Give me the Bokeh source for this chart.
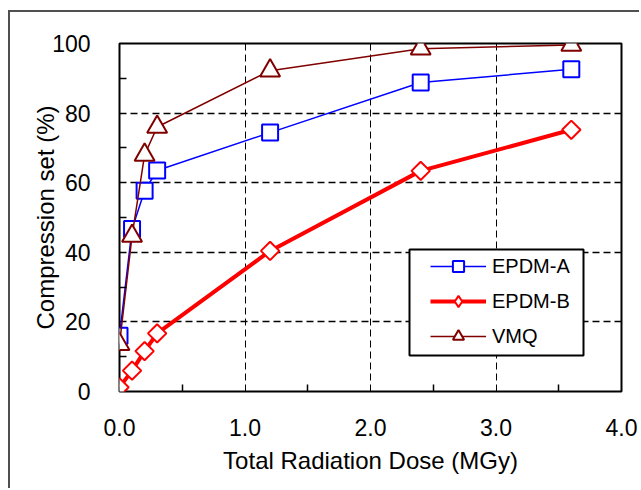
import numpy as np
from bokeh.plotting import figure
from bokeh.models import (FixedTicker, PrintfTickFormatter, Range1d, BoxAnnotation,
                          Legend, LegendItem)
from bokeh.embed import file_html
from bokeh.resources import INLINE

# ---- data ----
dose = [0.0, 0.1, 0.2, 0.3, 1.2, 2.4, 3.6]
epdm_a = [16.0, 46.7, 57.7, 63.5, 74.4, 88.8, 92.6]
epdm_b = [1.2, 6.0, 11.6, 16.7, 40.4, 63.4, 75.2]
vmq = [13.6, 44.7, 68.0, 76.0, 92.2, 98.5, 99.6]

x_ticks = [0, 1, 2, 3, 4]
x_minor = [0.5, 1.5, 2.5, 3.5]
y_ticks = [0, 20, 40, 60, 80, 100]
y_minor = [10, 30, 50, 70, 90]

FONT = "Liberation Sans"

p = figure(frame_width=502, frame_height=348,
           min_border_left=119, min_border_right=18,
           min_border_top=43, min_border_bottom=97,
           x_range=Range1d(0, 4), y_range=Range1d(0, 100),
           output_backend="svg", toolbar_location=None,
           background_fill_color="white", border_fill_alpha=0)
# thin page border along the top and left edges, as in the reference
p.styles = {
    "background": ("linear-gradient(#505050, #505050) 8px 10px / 2px 100% no-repeat, "
                   "linear-gradient(#505050, #505050) 8px 10px / 100% 2px no-repeat, "
                   "white"),
}

p.outline_line_color = "black"
p.outline_line_width = 2

for ax in (p.xaxis[0], p.yaxis[0]):
    ax.axis_line_color = None
    ax.major_tick_in = 0
    ax.major_tick_out = 0
    ax.minor_tick_in = 7
    ax.minor_tick_out = 0
    ax.minor_tick_line_color = "black"
    ax.minor_tick_line_width = 1.5
    ax.major_label_text_font = FONT
    ax.major_label_text_font_size = "23px"
    ax.major_label_text_color = "black"
    ax.axis_label_text_font = FONT
    ax.axis_label_text_font_size = "24px"
    ax.axis_label_text_font_style = "normal"
    ax.axis_label_text_color = "black"

p.xaxis.ticker = FixedTicker(ticks=x_ticks, minor_ticks=x_minor)
p.yaxis.ticker = FixedTicker(ticks=y_ticks, minor_ticks=y_minor)
p.xaxis.formatter = PrintfTickFormatter(format="%.1f")
p.xaxis.axis_label = "Total Radiation Dose (MGy)"
p.yaxis.axis_label = "Compression set (%)"
p.xaxis.major_label_standoff = 27
p.yaxis.major_label_standoff = 29
p.xaxis.axis_label_standoff = 8
p.yaxis.axis_label_standoff = -10

p.xgrid.ticker = FixedTicker(ticks=[1, 2, 3])
p.ygrid.ticker = FixedTicker(ticks=[20, 40, 60, 80])
for g, w in ((p.xgrid[0], 1), (p.ygrid[0], 1.5)):
    g.grid_line_color = "black"
    g.grid_line_width = w
    g.grid_line_dash = "7 4"

la = p.line(dose, epdm_a, line_color="#0000FF", line_width=1.5)
sa = p.scatter(dose, epdm_a, marker="square", size=16, line_color="#0000FF",
               line_width=2, fill_color="white")
lb = p.line(dose, epdm_b, line_color="#FF0000", line_width=4)
sb = p.scatter(dose, epdm_b, marker="square", angle=np.pi / 4, size=13,
               line_color="#FF0000", line_width=2, fill_color="white")
# diamond shape used only for the legend swatch (size 0 in the plot)
sb_leg = p.scatter(dose, epdm_b, marker="diamond", size=0, line_color="#FF0000",
                   line_width=2, fill_color="white")
lv = p.line(dose, vmq, line_color="#800000", line_width=1.5)
sv = p.scatter(dose, vmq, marker="triangle", size=20, line_color="#800000",
               line_width=2, fill_color="white")

box = BoxAnnotation(left=409, right=583, top=249, bottom=355,
                    left_units="canvas", right_units="canvas",
                    top_units="canvas", bottom_units="canvas",
                    fill_color="white", fill_alpha=1.0,
                    line_color="black", line_width=2, line_alpha=1.0)
p.add_layout(box)

legend = Legend(items=[LegendItem(label="EPDM-A", renderers=[la, sa]),
                       LegendItem(label="EPDM-B", renderers=[lb, sb_leg]),
                       LegendItem(label="VMQ", renderers=[lv, sv])],
                location=(307, 37), padding=4, spacing=7,
                glyph_width=56, glyph_height=28, label_height=28,
                label_standoff=6, label_text_font=FONT,
                label_text_font_size="20px", label_text_color="black",
                border_line_alpha=0, background_fill_alpha=0, margin=0)
p.add_layout(legend)

open("out.html", "w").write(file_html(p, INLINE))
